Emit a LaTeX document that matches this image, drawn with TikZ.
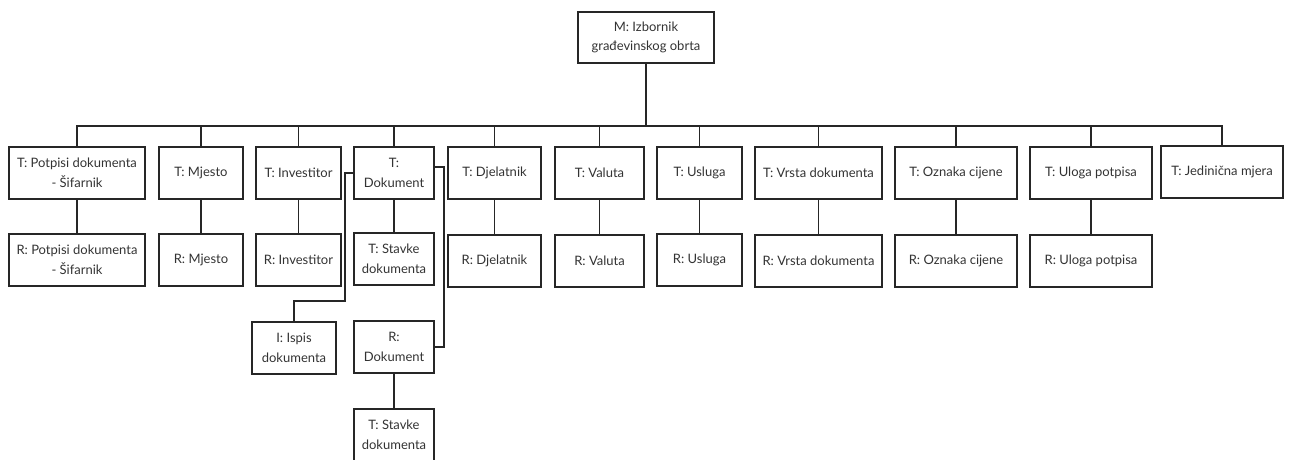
\documentclass[tikz,border=0pt]{standalone}
\usepackage{fontspec}
\setmainfont{Lato}
\usepackage{tikz}

\begin{document}
\begin{tikzpicture}[x=1pt, y=-1pt, line width=1.4pt, draw=black!85,
    every node/.style={draw=black!85, line width=1.8pt, align=center, text=black!80,
      font=\fontsize{13}{19.5}\selectfont, inner sep=0pt, minimum height=52pt}]
    \useasboundingbox (0,0) rectangle (1290,459);
    \node [minimum width=136pt, minimum height=51pt] (m) at (646,37.5) {M: Izbornik\\građevinskog obrta};
    \coordinate (bus) at (646,126);
    \node [minimum width=136pt] (tpot) at (77,173) {T: Potpisi dokumenta\\- Šifarnik};
    \node [minimum width=84pt] (tmje) at (201,173) {T: Mjesto};
    \node [minimum width=85pt] (tinv) at (298.5,173) {T: Investitor};
    \node [minimum width=80pt] (tdok) at (394,173) {T:\\Dokument};
    \node [minimum width=93pt] (tdje) at (494.5,173) {T: Djelatnik};
    \node [minimum width=89pt] (tval) at (599.5,173) {T: Valuta};
    \node [minimum width=85pt] (tusl) at (699.5,173) {T: Usluga};
    \node [minimum width=127pt] (tvrs) at (818.5,173) {T: Vrsta dokumenta};
    \node [minimum width=122pt] (tozn) at (956,173) {T: Oznaka cijene};
    \node [minimum width=122pt] (tulo) at (1091,173) {T: Uloga potpisa};
    \node [minimum width=122pt] (tjed) at (1222,172) {T: Jedinična mjera};
    \node [minimum width=136pt] (rpot) at (77,260) {R: Potpisi dokumenta\\- Šifarnik};
    \node [minimum width=84pt] (rmje) at (201,260) {R: Mjesto};
    \node [minimum width=85pt] (rinv) at (298.5,260) {R: Investitor};
    \node [minimum width=80pt] (tsta) at (394,259) {T: Stavke\\dokumenta};
    \node [minimum width=93pt] (rdje) at (494.5,261) {R: Djelatnik};
    \node [minimum width=89pt] (rval) at (599.5,261) {R: Valuta};
    \node [minimum width=85pt] (rusl) at (699.5,260) {R: Usluga};
    \node [minimum width=127pt] (rvrs) at (818.5,261) {R: Vrsta dokumenta};
    \node [minimum width=122pt] (rozn) at (956,261) {R: Oznaka cijene};
    \node [minimum width=122pt] (rulo) at (1091,261) {R: Uloga potpisa};
    \node [minimum width=84pt] (ispis) at (294,348) {I: Ispis\\dokumenta};
    \node [minimum width=80pt] (rdok) at (394,347) {R:\\Dokument};
    \node [minimum width=80pt] (rsta) at (394,435) {T: Stavke\\dokumenta};
    \draw (m) -- (bus);
    \draw (tpot.north) |- (bus);
    \draw (tmje.north) |- (bus);
    \draw (tinv.north) |- (bus);
    \draw (tdok.north) |- (bus);
    \draw (tdje.north) |- (bus);
    \draw (tval.north) |- (bus);
    \draw (tusl.north) |- (bus);
    \draw (tvrs.north) |- (bus);
    \draw (tozn.north) |- (bus);
    \draw (tulo.north) |- (bus);
    \draw (tjed.north) |- (bus);
    \draw (tpot) -- (rpot);
    \draw (tmje) -- (rmje);
    \draw (tinv) -- (rinv);
    \draw (tdok) -- (tsta);
    \draw (tdje) -- (rdje);
    \draw (tval) -- (rval);
    \draw (tusl) -- (rusl);
    \draw (tvrs) -- (rvrs);
    \draw (tozn) -- (rozn);
    \draw (tulo) -- (rulo);
    \draw (rdok) -- (rsta);
    \draw (ispis.north) |- (345,301) |- (tdok.west);
    \draw ([yshift=6pt]tdok.east) -- ++(9,0) |- (rdok.east);
  \end{tikzpicture}
\end{document}
